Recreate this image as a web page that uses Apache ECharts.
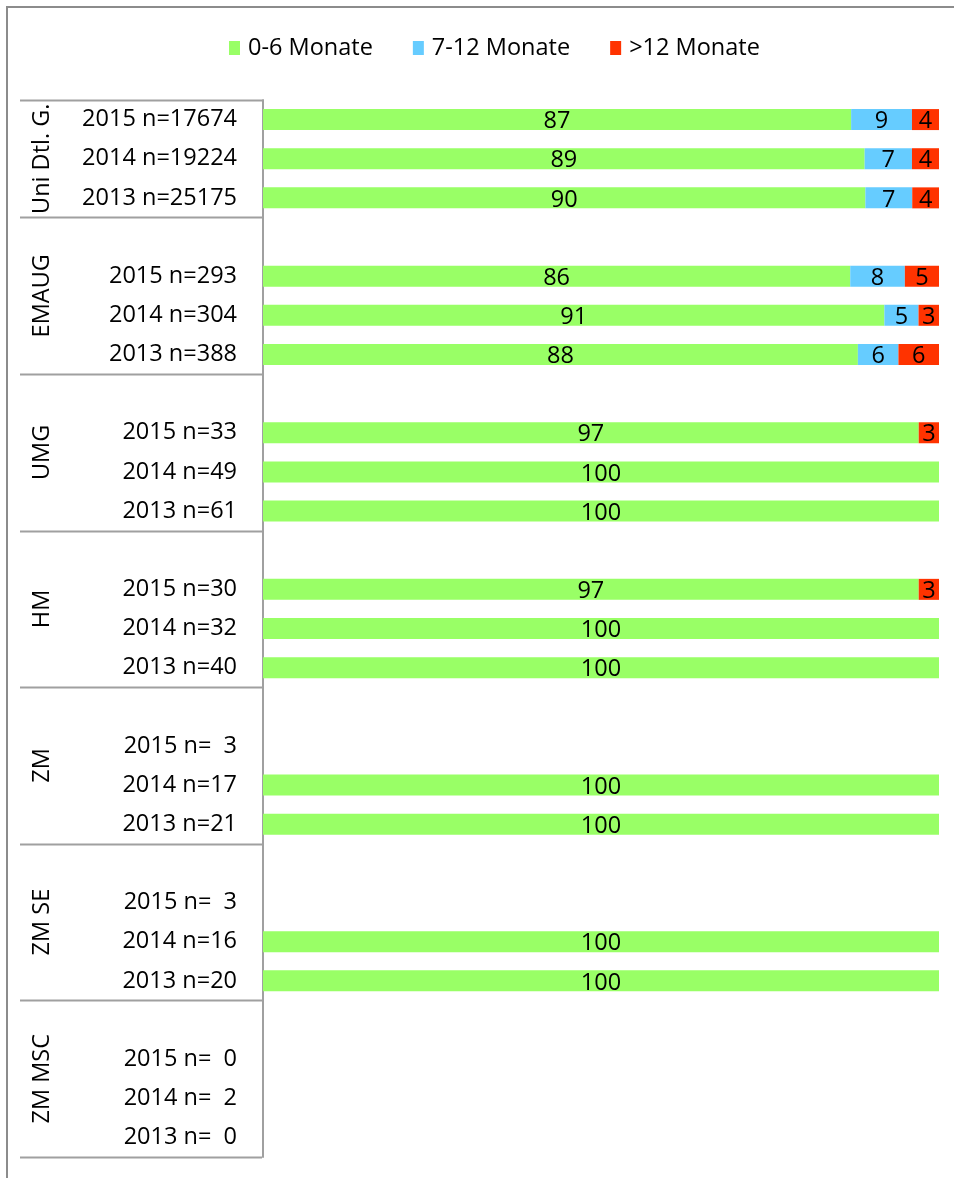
<!DOCTYPE html>
<html>
<head>
<meta charset="utf-8">
<script src="https://cdn.jsdelivr.net/npm/echarts@6/dist/echarts.min.js"></script>
<style>
  html, body { margin: 0; padding: 0; background: #fff; }
  #chart { width: 954px; height: 1178px; }
</style>
</head>
<body>
<div id="chart"></div>
<script>
// Institutions (top to bottom) and the year rows inside each one
const groups = ['Uni Dtl. G.', 'EMAUG', 'UMG', 'HM', 'ZM', 'ZM SE', 'ZM MSC'];
const rowLabels = [
  ['2015 n=17674', '2014 n=19224', '2013 n=25175'],
  ['2015 n=293', '2014 n=304', '2013 n=388'],
  ['2015 n=33', '2014 n=49', '2013 n=61'],
  ['2015 n=30', '2014 n=32', '2013 n=40'],
  ['2015 n=  3', '2014 n=17', '2013 n=21'],
  ['2015 n=  3', '2014 n=16', '2013 n=20'],
  ['2015 n=  0', '2014 n=  2', '2013 n=  0']
];
const seriesNames = ['0-6 Monate', '7-12 Monate', '>12 Monate'];
const seriesColors = ['#99FF66', '#66CCFF', '#FF3300'];

// Shares in percent per row (same order as rowLabels, flattened)
const months0to6 = [87, 89, 90, 86, 91, 88, 97, 100, 100, 97, 100, 100, null, 100, 100, null, 100, 100, null, null, null];
const months7to12 = [9, 7, 7, 8, 5, 6, null, null, null, null, null, null, null, null, null, null, null, null, null, null, null];
const monthsOver12 = [4, 4, 4, 5, 3, 6, 3, null, null, 3, null, null, null, null, null, null, null, null, null, null, null];

// Build the category list: every group after the first gets an empty spacer row on top
const categories = [];
const rowIndex = [];     // category index -> flat row index (or -1 for spacer)
const groupStart = [];   // first category index of each group (incl. spacer)
let flat = 0;
groups.forEach((g, gi) => {
  groupStart.push(categories.length);
  if (gi > 0) { categories.push(''); rowIndex.push(-1); }
  rowLabels[gi].forEach(l => { categories.push(l); rowIndex.push(flat++); });
});
const groupEnd = groupStart.slice(1).concat([categories.length]);

const raw = [months0to6, months7to12, monthsOver12];
// Row totals, so each bar fills the full 100% width
const totals = rowIndex.map(r => r < 0 ? 0 : raw.reduce((s, arr) => s + (arr[r] || 0), 0));

const FONT = 'Open Sans';
const FS = 23.5;

const series = raw.map((arr, si) => ({
  name: seriesNames[si],
  type: 'bar',
  stack: 'share',
  barWidth: 21,
  itemStyle: { color: seriesColors[si] },
  label: {
    show: true,
    position: 'inside',
    offset: [0, 2],
    color: '#000',
    fontSize: FS,
    fontFamily: FONT,
    formatter: p => p.data && p.data.raw != null ? String(p.data.raw) : ''
  },
  data: rowIndex.map((r, ci) => {
    if (r < 0 || arr[r] == null) return null;
    return { value: arr[r] / totals[ci] * 100, raw: arr[r] };
  })
}));

const chart = echarts.init(document.getElementById('chart'));
chart.setOption({
  animation: false,
  textStyle: { fontFamily: FONT },
  legend: {
    data: seriesNames.map(n => ({ name: n, icon: 'rect' })),
    top: 31,
    left: 224,
    padding: 5,
    itemWidth: 11,
    itemHeight: 14,
    itemGap: 40,
    textStyle: { fontSize: FS, color: '#000', fontFamily: FONT, padding: [0, 0, 0, 3] }
  },
  grid: { left: 263, right: 15, top: 100, bottom: 21 },
  xAxis: { type: 'value', min: 0, max: 100, show: false },
  yAxis: {
    type: 'category',
    inverse: true,
    data: categories,
    axisLine: { show: true, lineStyle: { color: '#a0a0a0', width: 2 } },
    axisTick: { show: false },
    axisLabel: { color: '#000', fontSize: FS, fontFamily: FONT, margin: 26, interval: 0 }
  },
  series: series
});

// Left-hand group frame: separators between institutions and rotated group names
function drawGroups() {
  const c0 = chart.convertToPixel({ yAxisIndex: 0 }, 0);
  const c1 = chart.convertToPixel({ yAxisIndex: 0 }, 1);
  const step = c1 - c0;
  const edge = i => c0 + (i - 0.5) * step;
  const axisX = 262;
  const elements = [{
    type: 'rect',
    shape: { x: 7, y: 7, width: 1000, height: 1300 },
    style: { fill: null, stroke: '#8c8c8c', lineWidth: 2 },
    silent: true
  }];
  const bounds = groupStart.concat([categories.length]);
  bounds.forEach(b => {
    const y = Math.round(edge(b)) + 0.5;
    elements.push({
      type: 'line',
      shape: { x1: 20, y1: y, x2: axisX, y2: y },
      style: { stroke: '#a0a0a0', lineWidth: 2 },
      silent: true
    });
  });
  groups.forEach((g, gi) => {
    const yc = (edge(groupStart[gi]) + edge(groupEnd[gi])) / 2;
    elements.push({
      type: 'text',
      x: 42, y: yc,
      rotation: Math.PI / 2,
      style: {
        text: g, fontSize: FS, fontFamily: FONT, fill: '#000',
        align: 'center', verticalAlign: 'middle'
      },
      silent: true
    });
  });
  chart.setOption({ graphic: { elements: elements } });
}
drawGroups();
</script>
</body>
</html>
